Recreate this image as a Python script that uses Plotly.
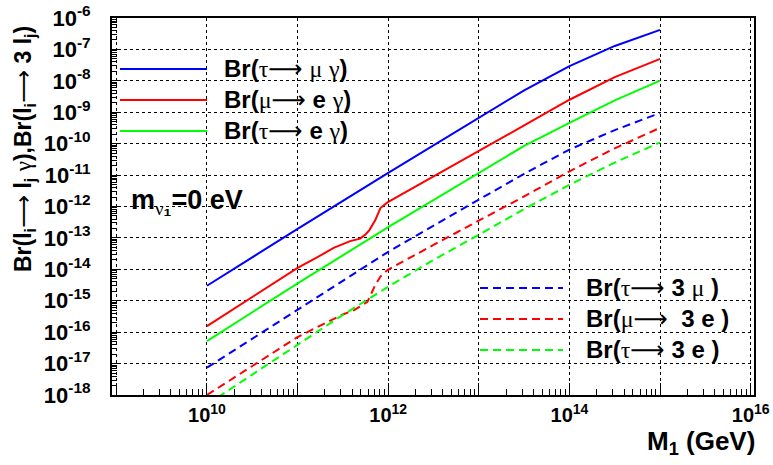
import plotly.graph_objects as go

# ---------------- data ----------------
M_tau_mu_gamma = [1e10, 1e11, 1e12, 1e13, 3.16e13, 1e14, 3.16e14, 1e15]
Br_tau_mu_gamma = [3.0e-15, 1.95e-13, 1.17e-11, 6.9e-10, 5.0e-9, 2.95e-8, 1.29e-7, 4.2e-7]

M_mu_e_gamma = [1e10, 3.0e10, 1e11, 1.6e11, 2.5e11, 3.8e11, 4.9e11, 5.6e11, 6.2e11,
                7.2e11, 8.2e11, 9.8e11, 3.16e12, 1e13, 3.16e13, 1e14, 3.16e14, 1e15]
Br_mu_e_gamma = [1.55e-16, 1.17e-15, 1.12e-14, 2.3e-14, 4.8e-14, 7.9e-14, 9.5e-14, 1.29e-13, 1.78e-13,
                 3.7e-13, 8.9e-13, 1.35e-12, 8.9e-12, 5.9e-11, 3.8e-10, 2.5e-9, 1.32e-8, 5.0e-8]

M_tau_e_gamma = [1e10, 1e11, 1e12, 1e13, 3.16e13, 1e14, 3.16e14, 1e15]
Br_tau_e_gamma = [5.2e-17, 3.55e-15, 2.2e-13, 1.2e-11, 8.5e-11, 4.6e-10, 2.4e-9, 1.02e-8]

M_tau_3mu = [1e10, 1e11, 1e12, 1e13, 3.16e13, 1e14, 3.16e14, 1e15]
Br_tau_3mu = [7.4e-18, 5.2e-16, 3.6e-14, 1.66e-12, 1.1e-11, 6.5e-11, 2.7e-10, 9.5e-10]

M_mu_3e = [1e10, 3.0e10, 1e11, 3.1e11, 4.2e11, 5.9e11, 7.2e11, 8.2e11, 9.8e11,
           3.16e12, 1e13, 3.16e13, 1e14, 3.16e14, 1e15]
Br_mu_3e = [1.0e-18, 7.8e-18, 7.0e-17, 3.6e-16, 5.0e-16, 9.3e-16, 3.2e-15, 5.9e-15, 9.5e-15,
            6.0e-14, 3.5e-13, 2.1e-12, 1.32e-11, 7.1e-11, 3.2e-10]

M_tau_3e = [1e10, 3.16e10, 1e11, 3.16e11, 1e12, 3.16e12, 1e13, 3.16e13, 1e14, 3.16e14, 1e15]
Br_tau_3e = [5.0e-19, 4.5e-18, 4.2e-17, 3.55e-16, 2.8e-15, 2.0e-14, 1.26e-13, 8.3e-13, 4.9e-12, 2.5e-11, 1.1e-10]

x_tick_exponents = [9, 10, 11, 12, 13, 14, 15, 16]
x_tick_labels = ["", "10<sup>10</sup>", "", "10<sup>12</sup>", "", "10<sup>14</sup>", "", "10<sup>16</sup>"]
y_tick_exponents = [-18, -17, -16, -15, -14, -13, -12, -11, -10, -9, -8, -7, -6]
y_tick_labels = ["10<sup>%d</sup>" % e for e in y_tick_exponents]

FONT = "Liberation Sans, Arial, Helvetica, sans-serif"
DASH = "8px,5px"


def g(ch):
    """Greek letter in a Symbol-like (serif, normal weight) face."""
    return '<span style="font-family:Liberation Serif;font-weight:normal">%s</span>' % ch


ARR = '<span style="font-family:DejaVu Sans;font-weight:normal">⟶</span>'
TAU, MU, GAM, NU = g("τ"), g("μ"), g("γ"), g("ν")

legend_solid = ["Br(" + TAU + ARR + " " + MU + " " + GAM + ")",
                "Br(" + MU + ARR + " e " + GAM + ")",
                "Br(" + TAU + ARR + " e " + GAM + ")"]
legend_dashed = ["Br(" + TAU + ARR + " 3 " + MU + " )",
                 "Br(" + MU + ARR + "  3 e )",
                 "Br(" + TAU + ARR + " 3 e )"]
series_names = ["Br(τ→ μ γ)", "Br(μ→ e γ)", "Br(τ→ e γ)", "Br(τ→ 3 μ)", "Br(μ→ 3 e)", "Br(τ→ 3 e)"]
colors = ["#0000ff", "#ff0000", "#00ff00"]

fig = go.Figure()
solid_sets = [(M_tau_mu_gamma, Br_tau_mu_gamma), (M_mu_e_gamma, Br_mu_e_gamma), (M_tau_e_gamma, Br_tau_e_gamma)]
dashed_sets = [(M_tau_3mu, Br_tau_3mu), (M_mu_3e, Br_mu_3e), (M_tau_3e, Br_tau_3e)]
for (xs, ys), c, name in zip(solid_sets, colors, series_names[:3]):
    fig.add_trace(go.Scatter(x=xs, y=ys, mode="lines", name=name, showlegend=False,
                             line=dict(color=c, width=2)))
for (xs, ys), c, name in zip(dashed_sets, colors, series_names[3:]):
    fig.add_trace(go.Scatter(x=xs, y=ys, mode="lines", name=name, showlegend=False,
                             line=dict(color=c, width=2, dash=DASH)))

x_minor = [k * 10.0 ** n for n in range(8, 16) for k in range(2, 10)]
y_minor = [k * 10.0 ** n for n in range(-18, -6) for k in range(2, 10)]

fig.update_xaxes(type="log", range=[8.952, 16.036], automargin=False, ticklabeloverflow="allow",
                 tickmode="array", tickvals=[10.0 ** e for e in x_tick_exponents], ticktext=x_tick_labels,
                 ticks="inside", ticklen=12, tickwidth=1, tickcolor="black",
                 minor=dict(tickmode="array", tickvals=x_minor, ticks="inside", ticklen=6, tickcolor="black", showgrid=False),
                 showgrid=True, gridcolor="black", gridwidth=1, griddash="dot",
                 showline=True, linecolor="black", linewidth=2, mirror=True, zeroline=False,
                 tickfont=dict(family=FONT, size=20, color="black", weight="bold"), ticklabelstandoff=1)
fig.update_yaxes(type="log", range=[-18, -6], automargin=False, ticklabeloverflow="allow",
                 tickmode="array", tickvals=[10.0 ** e for e in y_tick_exponents], ticktext=y_tick_labels,
                 ticks="inside", ticklen=9, tickwidth=1, tickcolor="black",
                 minor=dict(tickmode="array", tickvals=y_minor, ticks="inside", ticklen=5, tickcolor="black", showgrid=False),
                 showgrid=True, gridcolor="black", gridwidth=1, griddash="dot",
                 showline=True, linecolor="black", linewidth=2, mirror=True, zeroline=False,
                 tickfont=dict(family=FONT, size=22, color="black", weight="bold"), ticklabelstandoff=15)

W, H = 773, 465
L, R, T, B = 112, 19, 18, 70
pw, ph = W - L - R, H - T - B


def px(x):
    return (x - L) / pw


def py(y):
    return (H - B - y) / ph


shapes = []
annotations = []
for i, (label, c) in enumerate(zip(legend_solid, colors)):
    yy = [69, 100, 131][i]
    shapes.append(dict(type="line", xref="paper", yref="paper", x0=px(120), x1=px(207), y0=py(yy), y1=py(yy),
                       line=dict(color=c, width=2)))
    annotations.append(dict(x=px(222), y=py(yy), xref="paper", yref="paper", xanchor="left", yanchor="middle",
                            text="<b>%s</b>" % label, showarrow=False, font=dict(family=FONT, size=24, color="black")))
for i, (label, c) in enumerate(zip(legend_dashed, colors)):
    yy = [288, 319, 350][i]
    shapes.append(dict(type="line", xref="paper", yref="paper", x0=px(480), x1=px(563), y0=py(yy), y1=py(yy),
                       line=dict(color=c, width=2, dash=DASH)))
    annotations.append(dict(x=px(584), y=py(yy), xref="paper", yref="paper", xanchor="left", yanchor="middle",
                            text="<b>%s</b>" % label, showarrow=False, font=dict(family=FONT, size=24, color="black")))

annotations.append(dict(x=px(129), y=py(202), xref="paper", yref="paper", xanchor="left", yanchor="middle",
                        text="<b>m<sub>" + NU + "₁</sub>=0 eV</b>", showarrow=False,
                        font=dict(family=FONT, size=27, color="black")))
annotations.append(dict(x=px(757), y=py(442), xref="paper", yref="paper", xanchor="right", yanchor="middle",
                        text="<b>M<sub>1</sub> (GeV)</b>", showarrow=False, font=dict(family=FONT, size=26, color="black")))
annotations.append(dict(x=px(25), y=py(149), xref="paper", yref="paper", xanchor="center", yanchor="middle",
                        textangle=-90,
                        text="<b>Br(l<sub>i</sub>" + ARR + " l<sub>j</sub> " + GAM + "),Br(l<sub>i</sub>" + ARR
                             + " 3 l<sub>j</sub>)</b>",
                        showarrow=False, font=dict(family=FONT, size=23, color="black")))

fig.update_layout(width=W, height=H, margin=dict(l=L, r=R, t=T, b=B),
                  paper_bgcolor="white", plot_bgcolor="white",
                  shapes=shapes, annotations=annotations, showlegend=False)

# remove the browser's default 8px page margin so the figure fills the window exactly
fig.write_html("out.html", post_script="document.body.style.margin='0';",
               config={"displayModeBar": False})
